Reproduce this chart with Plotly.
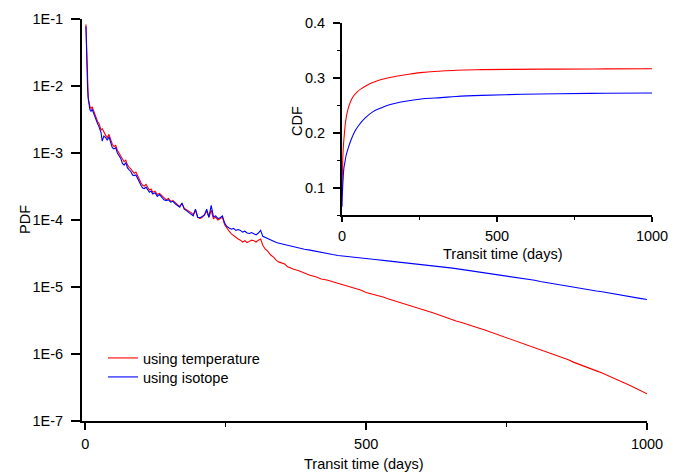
import plotly.graph_objects as go

# ---------------- PDF data (main panel) ----------------
t_red = [1, 2, 3, 4, 5, 6, 7, 8, 9, 10, 12, 14, 16, 18, 20, 22, 24, 26, 28, 30,
         33, 36, 39, 42, 45, 48, 51, 54, 57, 60, 63, 66, 69, 72, 75, 78, 81, 84, 87, 90,
         93, 96, 99, 102, 105, 108, 111, 114, 117, 120, 124, 128, 132, 136, 140, 144, 148, 152, 156, 160,
         164, 168, 172, 176, 180, 184, 188, 192, 196, 200, 204, 208, 212, 216, 220, 224, 228, 232, 236, 240,
         244, 248, 252, 256, 260, 264, 268, 272, 276, 280, 284, 288, 292, 296, 300, 304, 308, 312, 316, 320,
         325, 330, 335, 340, 345, 350, 355, 360, 365, 370, 380, 390, 400, 410, 420, 430, 440, 450, 460, 470,
         480, 490, 500, 510, 520, 530, 540, 550, 560, 570, 580, 590, 600, 610, 620, 630, 640, 650, 660, 670,
         680, 690, 700, 710, 720, 730, 740, 750, 760, 770, 780, 790, 800, 810, 820, 830, 840, 850, 860, 870,
         880, 890, 900, 910, 920, 930, 940, 950, 960, 970, 980, 990, 1000]
pdf_red = [8.3e-2, 3.5e-2, 1.8e-2, 1.0e-2, 7.1e-3, 6.0e-3, 5.2e-3, 5.0e-3, 4.8e-3, 4.6e-3,
           4.9e-3, 4.4e-3, 4.1e-3, 3.6e-3, 3.1e-3, 2.9e-3, 2.8e-3, 2.5e-3, 2.2e-3, 2.3e-3,
           2.0e-3, 1.85e-3, 1.7e-3, 1.9e-3, 1.6e-3, 1.35e-3, 1.25e-3, 1.3e-3, 1.1e-3, 1.0e-3,
           9.0e-4, 8.2e-4, 7.4e-4, 7.8e-4, 6.6e-4, 6.1e-4, 5.8e-4, 5.3e-4, 5.0e-4, 5.2e-4,
           4.5e-4, 4.1e-4, 3.6e-4, 3.3e-4, 3.2e-4, 3.4e-4, 3.0e-4, 2.8e-4, 2.9e-4, 2.6e-4,
           2.7e-4, 2.4e-4, 2.5e-4, 2.3e-4, 2.1e-4, 2.0e-4, 2.1e-4, 1.9e-4, 1.95e-4, 1.8e-4,
           1.7e-4, 1.6e-4, 1.75e-4, 1.5e-4, 1.4e-4, 1.35e-4, 1.3e-4, 1.2e-4, 1.4e-4, 1.1e-4,
           1.05e-4, 1.1e-4, 1.2e-4, 1.35e-4, 1.1e-4, 1.4e-4, 1.05e-4, 1.1e-4, 1.0e-4, 1.05e-4,
           1.1e-4, 8.5e-5, 7.5e-5, 6.8e-5, 6.2e-5, 5.8e-5, 5.5e-5, 5.2e-5, 5.0e-5, 4.7e-5,
           4.9e-5, 4.6e-5, 4.8e-5, 5.0e-5, 4.9e-5, 4.7e-5, 5.0e-5, 5.2e-5, 4.2e-5, 3.7e-5,
           3.4e-5, 3.0e-5, 2.8e-5, 2.5e-5, 2.35e-5, 2.3e-5, 2.2e-5, 2.0e-5, 1.9e-5, 1.85e-5,
           1.75e-5, 1.6e-5, 1.5e-5, 1.42e-5, 1.32e-5, 1.27e-5, 1.2e-5, 1.12e-5, 1.07e-5, 1.0e-5,
           9.4e-6, 9.0e-6, 8.3e-6, 7.9e-6, 7.6e-6, 7.1e-6, 6.6e-6, 6.2e-6, 5.8e-6, 5.5e-6,
           5.2e-6, 4.9e-6, 4.6e-6, 4.35e-6, 4.1e-6, 3.8e-6, 3.6e-6, 3.35e-6, 3.1e-6, 2.95e-6,
           2.75e-6, 2.6e-6, 2.45e-6, 2.3e-6, 2.15e-6, 2.0e-6, 1.84e-6, 1.72e-6, 1.61e-6, 1.5e-6,
           1.43e-6, 1.33e-6, 1.24e-6, 1.17e-6, 1.08e-6, 1.0e-6, 9.4e-7, 8.7e-7, 8.2e-7, 7.5e-7,
           7.0e-7, 6.6e-7, 6.0e-7, 5.6e-7, 5.2e-7, 4.8e-7, 4.45e-7, 4.0e-7, 3.7e-7, 3.4e-7,
           3.1e-7, 2.8e-7, 2.55e-7]

t_blue = t_red
pdf_blue = [7.8e-2, 3.0e-2, 1.5e-2, 9.0e-3, 6.5e-3, 5.3e-3, 4.6e-3, 4.5e-3, 4.3e-3, 4.2e-3,
            4.5e-3, 4.0e-3, 3.7e-3, 3.3e-3, 2.8e-3, 2.7e-3, 2.5e-3, 2.3e-3, 2.0e-3, 1.5e-3,
            1.8e-3, 1.7e-3, 1.55e-3, 1.75e-3, 1.45e-3, 1.2e-3, 1.15e-3, 1.2e-3, 1.0e-3, 9.2e-4,
            8.3e-4, 7.0e-4, 6.6e-4, 7.2e-4, 6.0e-4, 5.6e-4, 5.3e-4, 4.7e-4, 4.6e-4, 4.7e-4,
            4.1e-4, 3.7e-4, 3.3e-4, 3.0e-4, 2.95e-4, 3.1e-4, 2.8e-4, 2.6e-4, 2.7e-4, 2.45e-4,
            2.55e-4, 2.25e-4, 2.4e-4, 2.2e-4, 2.0e-4, 1.95e-4, 2.0e-4, 1.85e-4, 1.9e-4, 1.75e-4,
            1.65e-4, 1.55e-4, 1.8e-4, 1.45e-4, 1.38e-4, 1.3e-4, 1.25e-4, 1.15e-4, 1.45e-4, 1.1e-4,
            1.08e-4, 1.12e-4, 1.18e-4, 1.45e-4, 1.1e-4, 1.65e-4, 1.12e-4, 1.15e-4, 1.05e-4, 1.08e-4,
            1.15e-4, 9.0e-5, 8.0e-5, 7.6e-5, 7.3e-5, 7.5e-5, 7.0e-5, 7.2e-5, 7.0e-5, 6.6e-5,
            6.8e-5, 6.4e-5, 6.3e-5, 6.5e-5, 6.2e-5, 6.0e-5, 6.4e-5, 7.0e-5, 5.7e-5, 5.5e-5,
            5.2e-5, 5.0e-5, 4.8e-5, 4.6e-5, 4.5e-5, 4.4e-5, 4.25e-5, 4.1e-5, 4.05e-5, 3.95e-5,
            3.8e-5, 3.65e-5, 3.55e-5, 3.4e-5, 3.25e-5, 3.15e-5, 3.05e-5, 2.95e-5, 2.9e-5, 2.8e-5,
            2.75e-5, 2.7e-5, 2.65e-5, 2.6e-5, 2.55e-5, 2.5e-5, 2.45e-5, 2.4e-5, 2.36e-5, 2.32e-5,
            2.28e-5, 2.23e-5, 2.19e-5, 2.13e-5, 2.08e-5, 2.03e-5, 1.98e-5, 1.93e-5, 1.88e-5, 1.83e-5,
            1.78e-5, 1.73e-5, 1.69e-5, 1.64e-5, 1.6e-5, 1.55e-5, 1.51e-5, 1.47e-5, 1.43e-5, 1.38e-5,
            1.34e-5, 1.3e-5, 1.26e-5, 1.21e-5, 1.17e-5, 1.13e-5, 1.09e-5, 1.06e-5, 1.02e-5, 9.8e-6,
            9.4e-6, 9.1e-6, 8.8e-6, 8.7e-6, 8.5e-6, 8.2e-6, 7.9e-6, 7.6e-6, 7.3e-6, 7.2e-6,
            6.9e-6, 6.7e-6, 6.5e-6]

# ---------------- CDF data (inset) ----------------
t_cdf_red = [0, 1, 3, 5, 8, 12, 19, 27, 35, 50, 67, 85, 110, 140, 175, 220, 261, 310, 368, 450,
             550, 700, 850, 1000]
cdf_red = [0.085, 0.12, 0.16, 0.18, 0.20, 0.222, 0.242, 0.256, 0.265, 0.275, 0.282, 0.288,
           0.294, 0.299, 0.303, 0.307, 0.310, 0.312, 0.314, 0.315, 0.3155, 0.316, 0.3163, 0.3165]
t_cdf_blue = [0, 1, 3, 6, 9, 13, 20, 30, 42, 56, 75, 99, 125, 153, 200, 261, 320, 368, 450,
              583, 700, 850, 1000]
cdf_blue = [0.065, 0.085, 0.11, 0.135, 0.145, 0.158, 0.172, 0.188, 0.203, 0.215, 0.227, 0.238,
            0.245, 0.251, 0.257, 0.262, 0.264, 0.266, 0.268, 0.270, 0.271, 0.272, 0.2725]

series_names = ["using temperature", "using isotope"]
pdf_ticks = [1e-7, 1e-6, 1e-5, 1e-4, 1e-3, 1e-2, 1e-1]
pdf_ticktext = ["1E-7", "1E-6", "1E-5", "1E-4", "1E-3", "1E-2", "1E-1"]
x_ticks = [0, 500, 1000]
cdf_ticks = [0.1, 0.2, 0.3, 0.4]

RED = "#ff0000"
BLUE = "#0000ff"
FONT = "Liberation Sans, Arial, sans-serif"
FS = 14.5

# The page body has an 8 px margin, so the figure is drawn 8 px smaller
OFF = 8
W, H = 683 - OFF, 474 - OFF


def fx(px):
    return (px - OFF) / W


def fy(py):
    return (H - (py - OFF)) / H


fig = go.Figure()
fig.add_trace(go.Scatter(x=t_red, y=pdf_red, mode="lines", name=series_names[0],
                         line=dict(color=RED, width=1.1), xaxis="x", yaxis="y", legend="legend"))
fig.add_trace(go.Scatter(x=t_blue, y=pdf_blue, mode="lines", name=series_names[1],
                         line=dict(color=BLUE, width=1.1), xaxis="x", yaxis="y", legend="legend2"))
fig.add_trace(go.Scatter(x=t_cdf_red, y=cdf_red, mode="lines", showlegend=False,
                         line=dict(color=RED, width=1.1, shape="spline"), xaxis="x2", yaxis="y2"))
fig.add_trace(go.Scatter(x=t_cdf_blue, y=cdf_blue, mode="lines", showlegend=False,
                         line=dict(color=BLUE, width=1.1, shape="spline"), xaxis="x2", yaxis="y2"))

axis_common = dict(showline=True, linecolor="black", linewidth=1.8, mirror=False,
                   ticks="outside", tickcolor="black", tickwidth=1.6, showgrid=False,
                   zeroline=False, automargin=False,
                   tickfont=dict(family=FONT, size=FS, color="black"))

legend_common = dict(xanchor="left", yanchor="top", bgcolor="rgba(0,0,0,0)", borderwidth=0,
                     font=dict(family=FONT, size=FS, color="black"))

fig.update_layout(
    width=W, height=H,
    margin=dict(l=0, r=0, t=0, b=0, autoexpand=False),
    paper_bgcolor="white", plot_bgcolor="rgba(0,0,0,0)",
    font=dict(family=FONT, size=FS, color="black"),
    xaxis=dict(domain=[fx(82), fx(647)], range=[-6, 1000], tickvals=x_ticks, ticklen=7,
               anchor="y", ticklabelstandoff=2,
               minor=dict(dtick=250, tick0=0, ticks="outside", ticklen=4, tickcolor="black", tickwidth=1.4),
               **axis_common),
    yaxis=dict(domain=[fy(421), fy(19)], type="log", range=[-7, -1],
               tickvals=pdf_ticks, ticktext=pdf_ticktext, ticklen=9, anchor="x",
               ticklabelstandoff=5, **axis_common),
    xaxis2=dict(domain=[fx(342), fx(652)], range=[0, 1000], tickvals=x_ticks, ticklen=5,
                anchor="y2", ticklabelstandoff=2,
                minor=dict(dtick=250, tick0=0, ticks="outside", ticklen=3, tickcolor="black", tickwidth=1.2),
                **axis_common),
    yaxis2=dict(domain=[fy(215), fy(23)], range=[0.05, 0.4], tickvals=cdf_ticks,
                tickformat=".1f", ticklen=7, anchor="x2", ticklabelstandoff=5,
                minor=dict(dtick=0.05, tick0=0, ticks="outside", ticklen=3, tickcolor="black", tickwidth=1.2),
                **axis_common),
    legend=dict(x=fx(103), y=fy(342), **legend_common),
    legend2=dict(x=fx(103), y=fy(361), **legend_common),
    showlegend=True,
    annotations=[
        dict(text="PDF", x=fx(25), y=fy(220), xref="paper", yref="paper", xanchor="center",
             yanchor="middle", textangle=-90, showarrow=False, font=dict(family=FONT, size=FS)),
        dict(text="Transit time (days)", x=fx(364), y=fy(464), xref="paper", yref="paper",
             xanchor="center", yanchor="middle", showarrow=False, font=dict(family=FONT, size=FS)),
        dict(text="CDF", x=fx(297), y=fy(121), xref="paper", yref="paper", xanchor="center",
             yanchor="middle", textangle=-90, showarrow=False, font=dict(family=FONT, size=FS)),
        dict(text="Transit time (days)", x=fx(503), y=fy(254), xref="paper", yref="paper",
             xanchor="center", yanchor="middle", showarrow=False, font=dict(family=FONT, size=FS)),
    ],
)

fig.write_html("out.html")
